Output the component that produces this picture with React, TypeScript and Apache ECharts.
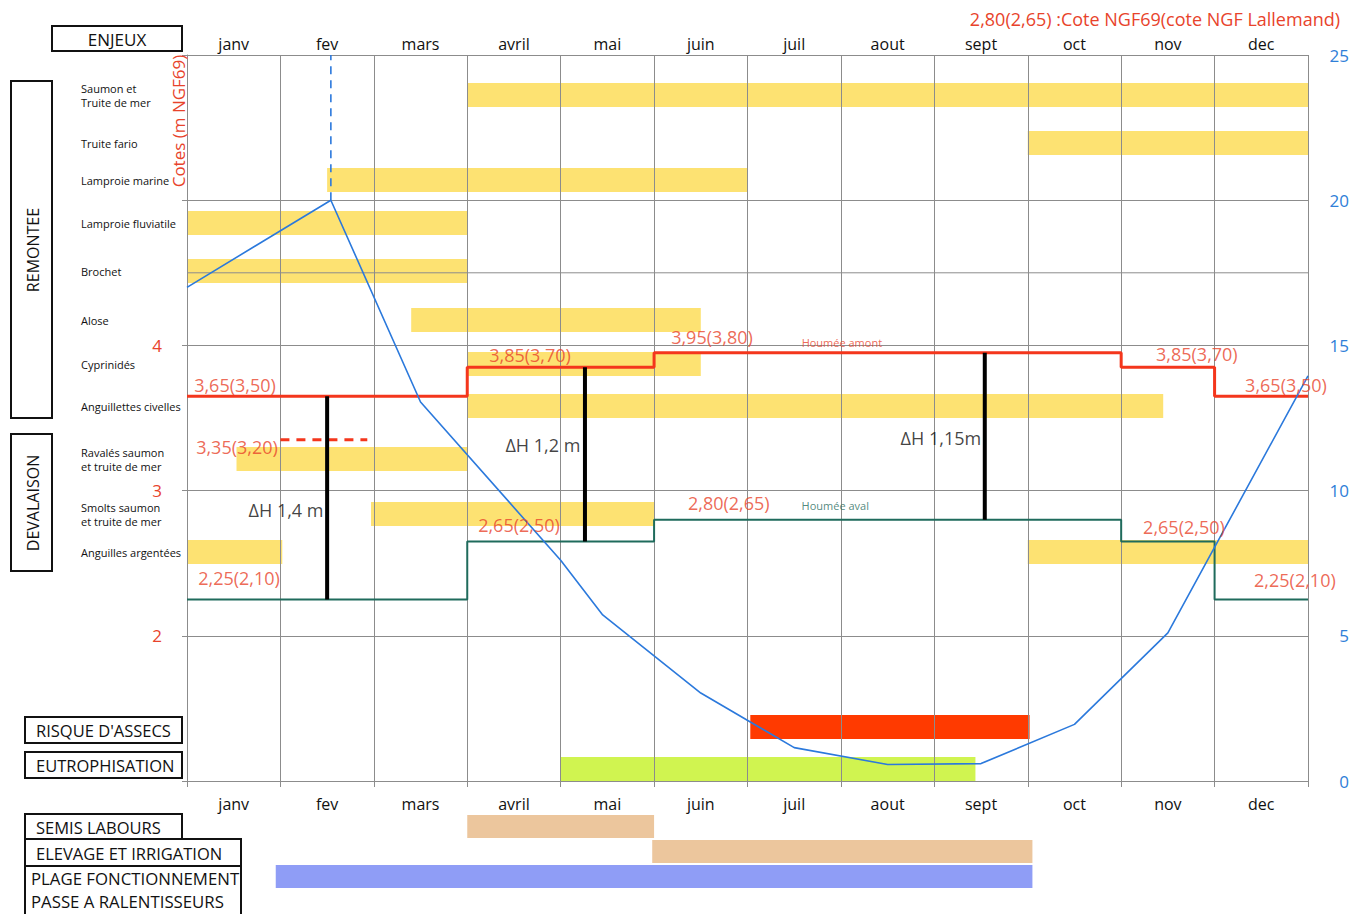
import React, { useEffect, useRef } from 'react';
import * as echarts from 'echarts';

// ---------- data ----------
const months = ['janv', 'fev', 'mars', 'avril', 'mai', 'juin', 'juil', 'aout', 'sept', 'oct', 'nov', 'dec'];
const coteLabels = [2, 3, 4];
const amontLevels = [3.65, 3.65, 3.65, 3.85, 3.85, 3.95, 3.95, 3.95, 3.95, 3.95, 3.85, 3.65];
const avalLevels = [2.25, 2.25, 2.25, 2.65, 2.65, 2.8, 2.8, 2.8, 2.8, 2.8, 2.65, 2.25];
const flowMonths = [0, 1.54, 2.5, 4.0, 4.45, 5.5, 6.5, 7.5, 8.5, 9.5, 10.5, 12];
const flowValues = [17, 20, 13.05, 7.6, 5.72, 3.03, 1.15, 0.57, 0.6, 1.95, 5.1, 13.95];
const peakMarker = { month: 1.54, from: 20, to: 25 };
const ravalesLevel = { from: 1.0, to: 1.93, level: 3.35 };
const extraGridLevel = 4.5;
const deltaH = [
  { month: 1.5, top: 3.65, bottom: 2.25 },
  { month: 4.26, top: 3.85, bottom: 2.65 },
  { month: 8.54, top: 3.95, bottom: 2.8 },
];
const species = [
  'Saumon et\nTruite de mer', 'Truite fario', 'Lamproie marine', 'Lamproie fluviatile', 'Brochet', 'Alose',
  'Cyprinidés', 'Anguillettes civelles', 'Ravalés saumon\net truite de mer', 'Smolts saumon\net truite de mer',
  'Anguilles argentées',
];
// [start month, end month, species index]
const speciesPeriods = [
  [3, 12, 0], [9, 12, 1], [1.5, 6, 2], [0, 3, 3], [0, 3, 4], [2.4, 5.5, 5], [3, 5.5, 6],
  [3, 10.45, 7], [0.53, 3, 8], [1.97, 5, 9], [0, 1.02, 10], [9, 12, 10],
];
const risks = ["RISQUE D'ASSECS", 'EUTROPHISATION'];
const riskPeriods = [[6.03, 9.02, 0], [4, 8.44, 1]];
const activities = ['SEMIS LABOURS', 'ELEVAGE ET IRRIGATION', 'PLAGE FONCTIONNEMENT PASSE A RALENTISSEURS'];
const activityPeriods = [[3, 5, 0], [4.98, 9.05, 1], [0.95, 9.05, 2]];
// annotation texts: [month, cote, text, kind]
const annotations: [number, number, string, string][] = [
  [0.514, 3.727, '3,65(3,50)', 'red'],
  [3.672, 3.934, '3,85(3,70)', 'red'],
  [5.62, 4.058, '3,95(3,80)', 'red'],
  [10.81, 3.941, '3,85(3,70)', 'red'],
  [11.764, 3.727, '3,65(3,50)', 'red'],
  [0.535, 3.3, '3,35(3,20)', 'red'],
  [0.557, 2.398, '2,25(2,10)', 'red'],
  [3.554, 2.763, '2,65(2,50)', 'red'],
  [5.8, 2.915, '2,80(2,65)', 'red'],
  [10.672, 2.749, '2,65(2,50)', 'red'],
  [11.86, 2.384, '2,25(2,10)', 'red'],
  [7.01, 4.023, 'Houmée amont', 'smallRed'],
  [6.94, 2.894, 'Houmée aval', 'smallGreen'],
  [1.06, 2.866, 'ΔH 1,4 m', 'black'],
  [3.81, 3.314, 'ΔH 1,2 m', 'black'],
  [8.07, 3.362, 'ΔH 1,15m', 'black'],
];

// ---------- layout & styles ----------
const FONT = "'Open Sans', 'Noto Sans', sans-serif";
const RED_TXT = '#e8432b';
const RED_LINE = '#f4361c';
const GREEN = '#1f6b5c';
const BLUE = '#2b79dc';
const BLUE_TXT = '#2f80d8';
const YELLOW = '#fde272';
const GRIDC = '#8c8c8c';
const L = 187, T = 55, W = 1121, H = 726;
const rowCenters = [95, 143, 180, 223, 271, 320, 364, 406, 459, 514, 552]; // pixel layout of species rows
const ROW_H = 40;

function barRenderer(barHeight: number) {
  return (params: any, api: any) => {
    const row = api.value(2);
    const s = api.coord([api.value(0), row]);
    const e = api.coord([api.value(1), row]);
    return {
      type: 'rect',
      shape: { x: s[0], y: s[1] - barHeight / 2, width: e[0] - s[0], height: barHeight },
      style: { fill: api.visual('color') },
    };
  };
}

const annStyle: Record<string, any> = {
  red: { color: RED_TXT, fontSize: 18 },
  smallRed: { color: RED_TXT, fontSize: 11 },
  smallGreen: { color: GREEN, fontSize: 11 },
  black: { color: '#111', fontSize: 18 },
};

function box(x: number, y: number, w: number, h: number) {
  return { type: 'rect', shape: { x, y, width: w, height: h }, style: { fill: 'none', stroke: '#111', lineWidth: 2 }, z: 10 };
}
function txt(x: number, y: number, text: string, size: number, align = 'left', rotation = 0, fill = '#111') {
  return {
    type: 'text', x, y, rotation, z: 11,
    style: { text, fill, font: `${size}px ${FONT}`, textAlign: align, textVerticalAlign: 'middle', align, verticalAlign: 'middle' },
  };
}

function buildOption(): any {
  const amontData = amontLevels.map((v, i) => [i, v]).concat([[12, amontLevels[11]]]);
  const avalData = avalLevels.map((v, i) => [i, v]).concat([[12, avalLevels[11]]]);
  const hiddenVal = (gi: number) => ({ type: 'value', gridIndex: gi, min: 0, max: 12, show: false });
  const g = (top: number, height: number) => ({ left: L, top, width: W, height, containLabel: false, outerBoundsMode: 'none' });

  // grid 0/1: main ; one grid per species row ; then risks ; then activities
  const grids: any[] = [g(T, H), g(T, H)];
  const xAxes: any[] = [
    {
      type: 'category', gridIndex: 0, data: months, position: 'bottom', boundaryGap: true, z: 1,
      axisLine: { lineStyle: { color: GRIDC, width: 1 } },
      axisTick: { show: true, length: 6, lineStyle: { color: GRIDC } },
      axisLabel: { fontSize: 16, color: '#111', margin: 15, fontFamily: FONT },
      splitLine: { show: true, lineStyle: { color: GRIDC, width: 1 } },
    },
    {
      type: 'category', gridIndex: 0, data: months, position: 'top', boundaryGap: true, z: 1,
      axisLine: { lineStyle: { color: GRIDC, width: 1 } },
      axisTick: { show: false },
      axisLabel: { fontSize: 16, color: '#111', margin: 3, fontFamily: FONT },
      splitLine: { show: false },
    },
    hiddenVal(1),
  ];
  const yAxes: any[] = [
    {
      type: 'value', gridIndex: 0, position: 'left', min: 1, max: 6, interval: 1, z: 1,
      axisLine: { show: true, lineStyle: { color: GRIDC } },
      axisTick: { show: true, length: 5, lineStyle: { color: GRIDC } },
      axisLabel: {
        color: RED_TXT, fontSize: 17, margin: 25, fontFamily: FONT, padding: [0, 0, 6, 0],
        formatter: (v: number) => (coteLabels.includes(v) ? String(v) : ''),
      },
      splitLine: { show: true, lineStyle: { color: GRIDC, width: 1 } },
    },
    {
      type: 'value', gridIndex: 0, position: 'right', min: 0, max: 25, interval: 5,
      axisLine: { show: false }, axisTick: { show: false },
      axisLabel: { color: BLUE_TXT, fontSize: 17, margin: 41, align: 'right', fontFamily: FONT, padding: [0, 0, 4, 0] },
      splitLine: { show: false },
    },
    { type: 'value', gridIndex: 1, min: 1, max: 6, show: false },
    { type: 'value', gridIndex: 1, position: 'right', min: 0, max: 25, show: false },
  ];
  const rowSeries: any[] = [];
  species.forEach((name, i) => {
    const gi = grids.length;
    grids.push(g(rowCenters[i] - ROW_H / 2, ROW_H));
    xAxes.push(hiddenVal(gi));
    yAxes.push({
      type: 'category', gridIndex: gi, data: [name],
      axisLine: { show: false }, axisTick: { show: false }, splitLine: { show: false },
      axisLabel: { align: 'left', margin: 106, fontSize: 11, lineHeight: 14, color: '#111', fontFamily: FONT },
    });
    rowSeries.push({
      type: 'custom', name, xAxisIndex: xAxes.length - 1, yAxisIndex: yAxes.length - 1, z: 0,
      renderItem: barRenderer(24),
      encode: { x: [0, 1], y: 2 },
      data: speciesPeriods
        .filter((p) => p[2] === i)
        .map((p) => ({ value: [p[0], p[1], 0], itemStyle: { color: YELLOW } })),
    });
  });
  const riskGrid = grids.length;
  grids.push(g(706, 84));
  xAxes.push(hiddenVal(riskGrid));
  yAxes.push({ type: 'category', gridIndex: riskGrid, data: risks, inverse: true, show: false });
  const riskX = xAxes.length - 1, riskY = yAxes.length - 1;
  const actGrid = grids.length;
  grids.push(g(814, 75));
  xAxes.push(hiddenVal(actGrid));
  yAxes.push({ type: 'category', gridIndex: actGrid, data: activities, inverse: true, show: false });
  const actX = xAxes.length - 1, actY = yAxes.length - 1;

  return {
    animation: false,
    backgroundColor: '#fff',
    textStyle: { fontFamily: FONT },
    grid: grids,
    xAxis: xAxes,
    yAxis: yAxes,
    series: [
      ...rowSeries,
      {
        type: 'custom', name: 'Risques', xAxisIndex: riskX, yAxisIndex: riskY, z: 0,
        renderItem: barRenderer(24),
        encode: { x: [0, 1], y: 2 },
        data: riskPeriods.map((p, i) => ({ value: p, itemStyle: { color: ['#ff3a00', '#d0f450'][i] } })),
      },
      {
        type: 'custom', name: 'Usages', xAxisIndex: actX, yAxisIndex: actY, z: 0,
        renderItem: barRenderer(23),
        encode: { x: [0, 1], y: 2 },
        data: activityPeriods.map((p, i) => ({ value: p, itemStyle: { color: ['#ecc69d', '#ecc69d', '#8f9df6'][i] } })),
      },
      {
        type: 'line', name: 'grid extra', xAxisIndex: 2, yAxisIndex: 2, z: 1, silent: true, symbol: 'none',
        lineStyle: { color: GRIDC, width: 1 },
        data: [[0, extraGridLevel], [12, extraGridLevel]],
      },
      {
        type: 'line', name: 'Houmée amont', xAxisIndex: 2, yAxisIndex: 2, step: 'end', symbol: 'none', z: 3,
        lineStyle: { color: RED_LINE, width: 3 }, data: amontData,
      },
      {
        type: 'line', name: 'Houmée aval', xAxisIndex: 2, yAxisIndex: 2, step: 'end', symbol: 'none', z: 3,
        lineStyle: { color: GREEN, width: 2 }, data: avalData,
      },
      {
        type: 'line', name: 'Ravalés', xAxisIndex: 2, yAxisIndex: 2, symbol: 'none', z: 3,
        lineStyle: { color: RED_LINE, width: 3, type: [9, 7] },
        data: [[ravalesLevel.from, ravalesLevel.level], [ravalesLevel.to, ravalesLevel.level]],
      },
      ...deltaH.map((d) => ({
        type: 'line', name: 'ΔH', xAxisIndex: 2, yAxisIndex: 2, symbol: 'none', z: 4,
        lineStyle: { color: '#000', width: 4 },
        data: [[d.month, d.top], [d.month, d.bottom]],
      })),
      {
        type: 'line', name: 'Débit', xAxisIndex: 2, yAxisIndex: 3, symbol: 'none', z: 5,
        lineStyle: { color: BLUE, width: 1.6 },
        data: flowMonths.map((m, i) => [m, flowValues[i]]),
      },
      {
        type: 'line', name: 'Pic', xAxisIndex: 2, yAxisIndex: 3, symbol: 'none', z: 5,
        lineStyle: { color: BLUE, width: 1.6, type: [8, 6] },
        data: [[peakMarker.month, peakMarker.from], [peakMarker.month, peakMarker.to]],
      },
      {
        type: 'scatter', name: 'annotations', xAxisIndex: 2, yAxisIndex: 2, symbolSize: 0, z: 6, silent: true,
        data: annotations.map(([x, y, text, kind]) => ({
          value: [x, y],
          label: { show: true, position: 'inside', formatter: text, fontFamily: FONT, ...annStyle[kind] },
        })),
      },
    ],
    graphic: [
      txt(1340, 19, '2,80(2,65) :Cote NGF69(cote NGF Lallemand)', 18, 'right', 0, RED_TXT),
      txt(178, 121, 'Cotes (m NGF69)', 17, 'center', Math.PI / 2, RED_TXT),
      box(52, 26, 130, 25), txt(117, 39, 'ENJEUX', 17, 'center'),
      box(11, 81, 41, 337), txt(33, 250, 'REMONTEE', 16, 'center', Math.PI / 2),
      box(11, 434, 41, 137), txt(33, 503, 'DEVALAISON', 16, 'center', Math.PI / 2),
      box(25, 717, 157, 26), txt(36, 730, risks[0], 16.5),
      box(25, 752, 157, 26), txt(36, 765, risks[1], 16.5),
      box(25, 814, 157, 25), txt(36, 827, activities[0], 16.5),
      box(25, 839, 216, 27), txt(36, 853, activities[1], 16.5),
      box(25, 866, 216, 52), txt(31, 878, 'PLAGE FONCTIONNEMENT', 16.8), txt(31, 901, 'PASSE A RALENTISSEURS', 16.8),
    ],
  };
}

export default function App() {
  const ref = useRef<HTMLDivElement>(null);
  useEffect(() => {
    if (!ref.current) return;
    const chart = echarts.init(ref.current, null, { renderer: 'svg' });
    chart.setOption(buildOption());
    return () => chart.dispose();
  }, []);
  return (
    <div
      ref={ref}
      style={{ position: 'fixed', left: 0, top: 0, width: 1356, height: 914, background: '#fff' }}
    />
  );
}
